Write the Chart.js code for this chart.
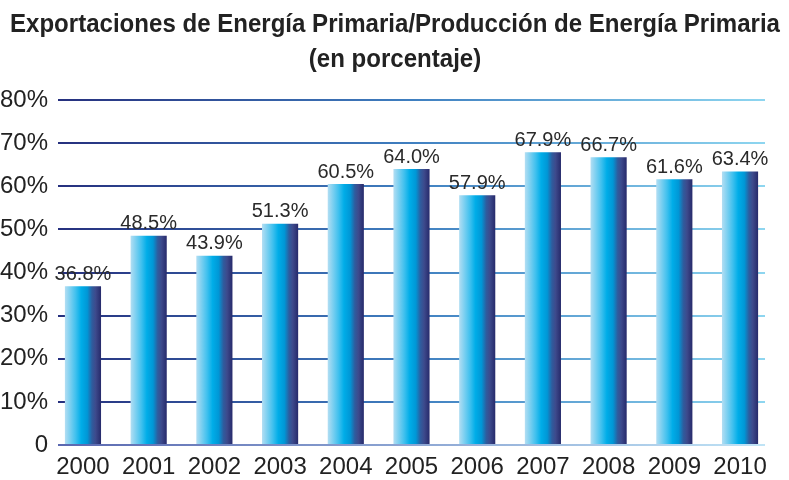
<!DOCTYPE html>
<html><head><meta charset="utf-8">
<script src="https://cdn.jsdelivr.net/npm/chart.js@4/dist/chart.umd.min.js"></script>
<style>html,body{margin:0;padding:0;background:#fff;}#wrap{width:789px;height:480px;position:relative;}</style>
</head><body><div id="wrap"><canvas id="c" width="789" height="480"></canvas></div>
<script>
const years = [2000, 2001, 2002, 2003, 2004, 2005, 2006, 2007, 2008, 2009, 2010];
const ratio = [36.8, 48.5, 43.9, 51.3, 60.5, 64.0, 57.9, 67.9, 66.7, 61.6, 63.4];
const valueLabels = ['36.8%','48.5%','43.9%','51.3%','60.5%','64.0%','57.9%','67.9%','66.7%','61.6%','63.4%'];
const yTicks = [0, 10, 20, 30, 40, 50, 60, 70, 80];
const titleLines = ['Exportaciones de Energía Primaria/Producción de Energía Primaria','(en porcentaje)'];

const FONT = "'Liberation Sans Narrow','Arial Narrow','Liberation Sans',Arial,sans-serif";
const BAR_PCT = 0.55;

function barGradient(ctx){
  const chart = ctx.chart;
  const xs = chart.scales.x;
  if (!xs || !chart.chartArea) return '#00a8e0';
  const cx = xs.getPixelForValue(years[ctx.dataIndex]);
  const step = Math.abs(xs.getPixelForValue(years[1]) - xs.getPixelForValue(years[0]));
  const w = step * BAR_PCT;
  const g = chart.ctx.createLinearGradient(cx - w/2, 0, cx + w/2, 0);
  g.addColorStop(0, '#b3def3');
  g.addColorStop(0.3, '#3fc0ee');
  g.addColorStop(0.45, '#00ade8');
  g.addColorStop(0.62, '#0097d6');
  g.addColorStop(0.75, '#2f5c9e');
  g.addColorStop(0.85, '#3d4a8c');
  g.addColorStop(1, '#262a6b');
  return g;
}

function gridColor(ctx){
  const chart = ctx.chart;
  const a = chart.chartArea;
  if (!a) return '#4a5aa0';
  const g = chart.ctx.createLinearGradient(a.left, 0, a.right, 0);
  if (ctx.tick && ctx.tick.value === 0){
    g.addColorStop(0, '#5a68b0');
    g.addColorStop(1, '#c0e4f6');
  } else {
    g.addColorStop(0, '#26307e');
    g.addColorStop(0.5, '#3f7fc0');
    g.addColorStop(1, '#8ed6f0');
  }
  return g;
}

const titlePlugin = {
  id: 'twoLineTitle',
  afterDraw(chart){
    const c = chart.ctx;
    c.save();
    c.font = "bold 25px " + FONT;
    c.fillStyle = '#222';
    c.textAlign = 'center';
    c.textBaseline = 'alphabetic';
    const w0 = c.measureText(titleLines[0]).width;
    const sx = Math.min(1, 770 / w0);
    c.translate(395, 0);
    c.scale(sx, 1);
    c.fillText(titleLines[0], 0, 32);
    c.fillText(titleLines[1], 0, 67);
    c.restore();
  }
};

const labelPlugin = {
  id: 'valLabels',
  afterDatasetsDraw(chart){
    const meta = chart.getDatasetMeta(0);
    const c = chart.ctx;
    c.save();
    c.font = "20px " + FONT;
    c.fillStyle = '#2a2a2a';
    c.textAlign = 'center';
    c.textBaseline = 'bottom';
    meta.data.forEach((bar, i) => {
      c.fillText(valueLabels[i], bar.x, bar.y - 2);
    });
    c.restore();
  }
};

new Chart(document.getElementById('c'), {
  type: 'bar',
  data: {
    datasets: [{
      data: years.map((y, i) => ({ x: y, y: ratio[i] })),
      backgroundColor: barGradient,
      borderWidth: 0,
      barPercentage: BAR_PCT,
      categoryPercentage: 1.0
    }]
  },
  options: {
    responsive: false,
    animation: false,
    layout: { padding: { left: 0, right: 24, top: 100, bottom: 0 } },
    plugins: {
      legend: { display: false },
      tooltip: { enabled: false },
      title: { display: false }
    },
    scales: {
      x: {
        type: 'linear',
        min: 1999.62,
        max: 2010.38,
        offset: false,
        grid: { display: false, drawTicks: false },
        border: { display: false },
        ticks: { color: '#222', font: { family: FONT, size: 24 }, padding: 8, callback: v => String(v) },
        afterBuildTicks(s){ s.ticks = years.map(v => ({ value: v })); },
        afterFit(s){ s.height = 35; }
      },
      y: {
        min: 0, max: 80,
        border: { display: false },
        grid: { color: gridColor, lineWidth: 2, drawTicks: false },
        ticks: {
          color: '#222',
          font: { family: FONT, size: 24 },
          padding: 10,
          callback: v => v === 0 ? '0' : v + '%'
        },
        afterBuildTicks(s){ s.ticks = yTicks.map(v => ({ value: v })); },
        afterFit(s){ s.width = 58; }
      }
    }
  },
  plugins: [labelPlugin, titlePlugin]
});
</script></body></html>
